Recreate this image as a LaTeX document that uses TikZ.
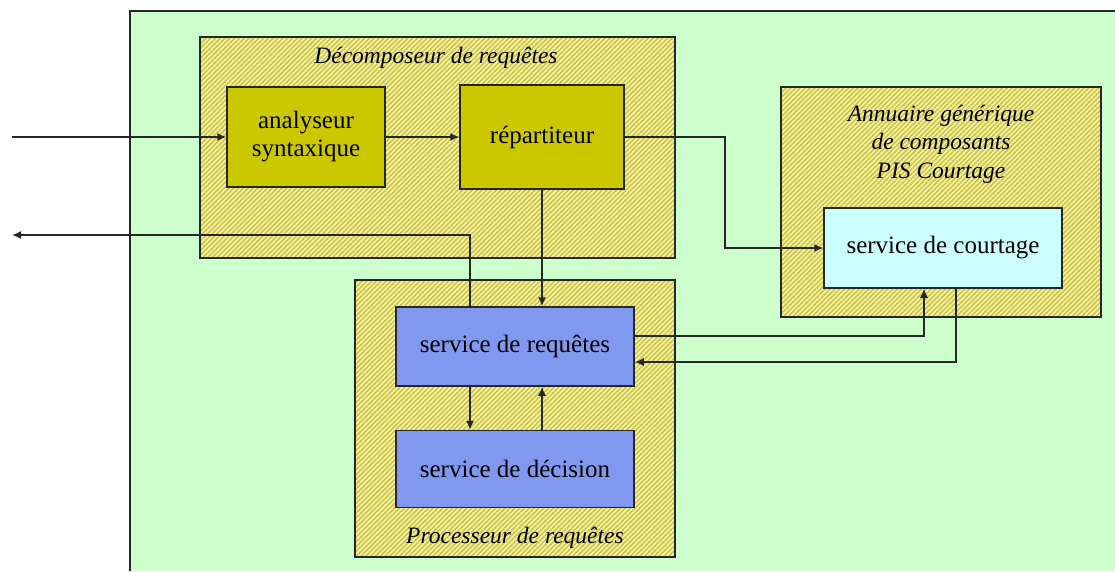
\documentclass[tikz,border=0pt]{standalone}
\usepackage{fontspec}
\setmainfont{Liberation Serif}
\usetikzlibrary{arrows.meta,patterns.meta}
\definecolor{bggreen}{HTML}{CCFFCC}
\definecolor{hatchlight}{HTML}{F4F2B0}
\definecolor{hatchdark}{HTML}{CFC640}
\definecolor{olive}{HTML}{CCC800}
\definecolor{bluebox}{HTML}{8099EE}
\definecolor{cyanbox}{HTML}{CCFFFF}
\tikzset{
  frame/.style={draw=black!85, line width=1.5pt, rectangle, inner sep=0pt},
  hatchbox/.style={frame, preaction={fill=hatchlight},
    pattern={Lines[angle=45,distance=3.4pt,line width=1.6pt]}, pattern color=hatchdark},
  olivebox/.style={frame, fill=olive, align=center, font=\fontsize{25}{28}\selectfont},
  bluebx/.style={frame, fill=bluebox, align=center, font=\fontsize{25}{28}\selectfont},
  cyanbx/.style={frame, fill=cyanbox, align=center, font=\fontsize{25}{28}\selectfont},
  title/.style={inner sep=0pt, align=center, font=\fontsize{23.5}{28.5}\selectfont\itshape},
  arr/.style={draw=black!85, line width=1.5pt, -{Latex[length=9pt,width=8pt]}},
  ln/.style={draw=black!85, line width=1.5pt}
}
\begin{document}
\begin{tikzpicture}[x=1pt,y=-1pt]
\useasboundingbox (0,0) rectangle (1115,571);
% background
\fill[bggreen] (130,11) rectangle (1115,571);
\draw[ln] (130,571) -- (130,11) -- (1115,11);
% group boxes
\node[hatchbox, minimum width=475pt, minimum height=221pt] (dec) at (437.5,147.5) {};
\node[hatchbox, minimum width=320pt, minimum height=277pt] (proc) at (515,418.5) {};
\node[hatchbox, minimum width=320pt, minimum height=230pt] (ann) at (941,202) {};
% titles
\node[title] (dectitle) at (436,58) {Décomposeur de requêtes};
\node[title] (anntitle) at (941,144) {Annuaire générique\\de composants\\PIS Courtage};
\node[title] (proctitle) at (515,538) {Processeur de requêtes};
% inner boxes
\node[olivebox, minimum width=158pt, minimum height=100pt] (ana) at (306,137) {analyseur\\syntaxique};
\node[olivebox, minimum width=164pt, minimum height=104pt] (rep) at (542,137) {répartiteur};
\node[bluebx, minimum width=238pt, minimum height=79pt] (req) at (515,346.5) {service de requêtes};
\node[bluebx, minimum width=238pt, minimum height=77pt] (decis) at (515,469) {service de décision};
\node[cyanbx, minimum width=238pt, minimum height=80pt] (crt) at (943,248) {service de courtage};
% free ends
\coordinate (in) at (12,137);
\coordinate (out) at (12,235);
% connectors
\draw[arr] (in) -- (ana.west);
\draw[arr] (ana.east) -- (ana.east -| rep.west);
\draw[arr] (rep.east) -- ++(100,0) |- (crt.west);
\draw[arr] (rep.south) -- (rep.south |- req.north);
\draw[arr] ([xshift=-45pt]req.north) |- (out);
\draw[arr] ([xshift=-45pt]req.south) -- ([xshift=-45pt]decis.north);
\draw[arr] ([xshift=27pt]decis.north) -- ([xshift=27pt]req.south);
\draw[arr] ([yshift=10.5pt]req.east) -| ([xshift=-19pt]crt.south);
\draw[arr] ([xshift=13pt]crt.south) |- ([yshift=-15.5pt]req.east);
\end{tikzpicture}
\end{document}
